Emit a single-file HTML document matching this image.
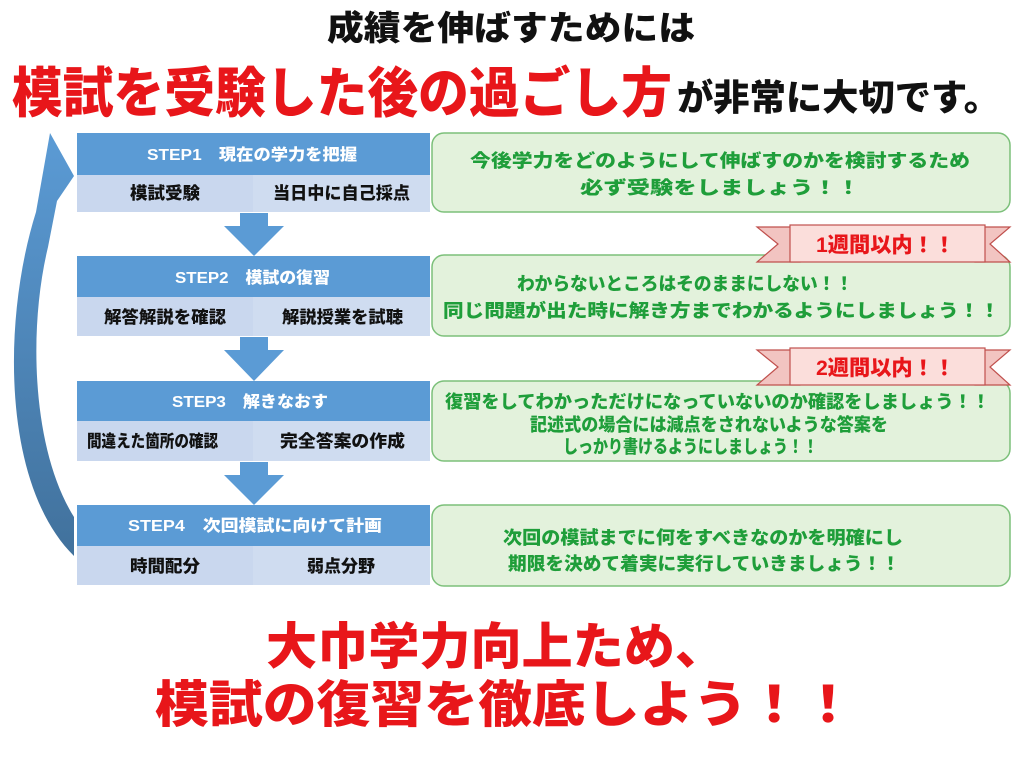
<!DOCTYPE html>
<html><head><meta charset="utf-8"><style>
html,body{margin:0;padding:0;background:#fff;}
svg{display:block;}
text{font-family:"Liberation Sans","Noto Sans CJK JP",sans-serif;font-weight:900;}
</style></head><body>
<svg width="1024" height="768" viewBox="0 0 1024 768" xmlns="http://www.w3.org/2000/svg">
<defs>
<linearGradient id="ag" x1="0" y1="0" x2="0" y2="1">
<stop offset="0" stop-color="#5b9bd5"/><stop offset="1" stop-color="#41719c"/>
</linearGradient>
</defs>
<text x="327" y="40" font-size="34" textLength="368" lengthAdjust="spacingAndGlyphs" fill="#111">成績を伸ばすためには</text>
<text x="12" y="112" font-size="54" textLength="660" lengthAdjust="spacingAndGlyphs" fill="#e8161a">模試を受験した後の過ごし方</text>
<text x="677" y="110" font-size="36" textLength="323" lengthAdjust="spacingAndGlyphs" fill="#111">が非常に大切です。</text>

<path d="M50,133 L74,176 L57,201 L48,247 C28,330 32,450 74,517 L74,556 C2,485 2,320 36,212 Z" fill="url(#ag)"/>

<g>
<rect x="77" y="133" width="353" height="42" fill="#5b9bd5"/>
<rect x="77" y="175" width="353" height="37" fill="#c9d7ee"/>
<rect x="77" y="256" width="353" height="41" fill="#5b9bd5"/>
<rect x="77" y="297" width="353" height="39" fill="#c9d7ee"/>
<rect x="77" y="381" width="353" height="40" fill="#5b9bd5"/>
<rect x="77" y="421" width="353" height="40" fill="#c9d7ee"/>
<rect x="77" y="505" width="353" height="41" fill="#5b9bd5"/>
<rect x="77" y="546" width="353" height="39" fill="#c9d7ee"/>
<rect x="253" y="175" width="177" height="37" fill="#cfdcf0"/>
<rect x="253" y="297" width="177" height="39" fill="#cfdcf0"/>
<rect x="253" y="421" width="177" height="40" fill="#cfdcf0"/>
<rect x="253" y="546" width="177" height="39" fill="#cfdcf0"/>
</g>
<path d="M240,213 L268,213 L268,226 L284,226 L254,256 L224,226 L240,226 Z" fill="#5b9bd5"/>
<path d="M240,337 L268,337 L268,350 L284,350 L254,381 L224,350 L240,350 Z" fill="#5b9bd5"/>
<path d="M240,462 L268,462 L268,475 L284,475 L254,505 L224,475 L240,475 Z" fill="#5b9bd5"/>

<g fill="#fff" font-size="16">
<text x="147" y="160" textLength="210" lengthAdjust="spacingAndGlyphs">STEP1　現在の学力を把握</text>
<text x="175" y="283" textLength="155" lengthAdjust="spacingAndGlyphs">STEP2　模試の復習</text>
<text x="172" y="407" textLength="156" lengthAdjust="spacingAndGlyphs">STEP3　解きなおす</text>
<text x="128" y="531" textLength="254" lengthAdjust="spacingAndGlyphs">STEP4　次回模試に向けて計画</text>
</g>
<g fill="#111" font-size="17">
<text x="130" y="199" textLength="70" lengthAdjust="spacingAndGlyphs">模試受験</text>
<text x="273" y="199" textLength="137" lengthAdjust="spacingAndGlyphs">当日中に自己採点</text>
<text x="104" y="323" textLength="122" lengthAdjust="spacingAndGlyphs">解答解説を確認</text>
<text x="282" y="323" textLength="121" lengthAdjust="spacingAndGlyphs">解説授業を試聴</text>
<text x="87" y="447" textLength="131" lengthAdjust="spacingAndGlyphs">間違えた箇所の確認</text>
<text x="280" y="447" textLength="125" lengthAdjust="spacingAndGlyphs">完全答案の作成</text>
<text x="130" y="572" textLength="70" lengthAdjust="spacingAndGlyphs">時間配分</text>
<text x="307" y="572" textLength="68" lengthAdjust="spacingAndGlyphs">弱点分野</text>
</g>

<g fill="#e3f2dc" stroke="#7cc07a" stroke-width="1.5">
<rect x="432" y="133" width="578" height="79" rx="12"/>
<rect x="432" y="255" width="578" height="81" rx="12"/>
<rect x="432" y="381" width="578" height="80" rx="12"/>
<rect x="432" y="505" width="578" height="81" rx="12"/>
</g>

<g stroke="#c0504d" stroke-width="1.2">
<path d="M757,227 L800,227 L800,262 L757,262 L778,244 Z" fill="#f2c4c1"/>
<path d="M1010,227 L975,227 L975,262 L1010,262 L990,244 Z" fill="#f2c4c1"/>
<rect x="790" y="225" width="195" height="37" fill="#fbdedb"/>
<path d="M757,350 L800,350 L800,385 L757,385 L778,367 Z" fill="#f2c4c1"/>
<path d="M1010,350 L975,350 L975,385 L1010,385 L990,367 Z" fill="#f2c4c1"/>
<rect x="790" y="348" width="195" height="37" fill="#fbdedb"/>
</g>
<g fill="#e8161a" font-size="21">
<text x="816" y="252" textLength="139" lengthAdjust="spacingAndGlyphs">1週間以内！！</text>
<text x="816" y="375" textLength="139" lengthAdjust="spacingAndGlyphs">2週間以内！！</text>
</g>

<g fill="#1f9e3a" font-size="18">
<text x="470" y="167" textLength="500" lengthAdjust="spacingAndGlyphs">今後学力をどのようにして伸ばすのかを検討するため</text>
<text x="580" y="194" textLength="280" lengthAdjust="spacingAndGlyphs">必ず受験をしましょう！！</text>
<text x="517" y="290" textLength="336" lengthAdjust="spacingAndGlyphs">わからないところはそのままにしない！！</text>
<text x="443" y="317" textLength="557" lengthAdjust="spacingAndGlyphs">同じ問題が出た時に解き方までわかるようにしましょう！！</text>
<text x="445" y="408" textLength="545" lengthAdjust="spacingAndGlyphs">復習をしてわかっただけになっていないのか確認をしましょう！！</text>
<text x="530" y="431" textLength="358" lengthAdjust="spacingAndGlyphs">記述式の場合には減点をされないような答案を</text>
<text x="563" y="453" textLength="255" lengthAdjust="spacingAndGlyphs">しっかり書けるようにしましょう！！</text>
<text x="503" y="544" textLength="400" lengthAdjust="spacingAndGlyphs">次回の模試までに何をすべきなのかを明確にし</text>
<text x="508" y="570" textLength="392" lengthAdjust="spacingAndGlyphs">期限を決めて着実に実行していきましょう！！</text>
</g>

<g fill="#e8161a" font-size="50">
<text x="266" y="664" textLength="460" lengthAdjust="spacingAndGlyphs">大巾学力向上ため、</text>
<text x="155" y="722" textLength="700" lengthAdjust="spacingAndGlyphs">模試の復習を徹底しよう！！</text>
</g>
</svg>
</body></html>
